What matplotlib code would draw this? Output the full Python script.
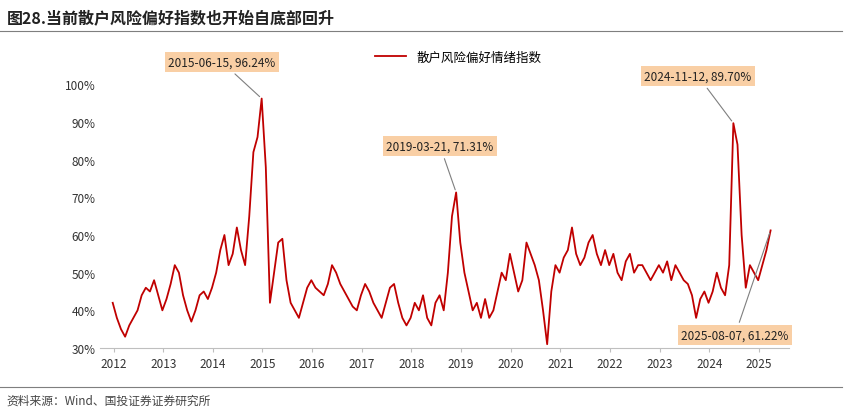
import matplotlib
matplotlib.use("Agg")
import matplotlib.pyplot as plt
import numpy as np

plt.rcParams['font.family'] = ['Noto Sans CJK SC']

# monthly index values (%) starting 2012-05
values = [
 42,38,35,33,36,38,40,44,46,45,48,44,
 40,43,47,52,50,44,40,37,40,44,45,43,
 46,50,56,60,52,55,62,56,52,65,82,86,
 96.24,78,42,50,58,59,48,42,40,38,42,46,
 48,46,45,44,47,52,50,47,45,43,41,40,
 44,47,45,42,40,38,42,46,47,42,38,36,
 38,42,40,44,38,36,42,44,40,50,65,71.31,
 58,50,45,40,42,38,43,38,40,45,50,48,
 55,50,45,48,58,55,52,48,40,31,45,52,
 50,54,56,62,55,52,54,58,60,55,52,56,
 52,55,50,48,53,55,50,52,52,50,48,50,
 52,50,53,48,52,50,48,47,44,38,43,45,
 42,45,50,46,44,52,89.70,84,60,46,52,50,
 48,52,56,61.22]
start_year = 2012 + 4/12
years = [str(y) for y in range(2012, 2026)]
label_offset = 0.35
annots = [("2015-06-15, 96.24%", 36, (222, 351)),
          ("2019-03-21, 71.31%", 83, (440, 267)),
          ("2024-11-12, 89.70%", 150, (698, 337)),
          ("2025-08-07, 61.22%", len(values)-1, (735, 78))]

x = start_year + np.arange(len(values))/12
fig = plt.figure(figsize=(8.5, 4.14), dpi=100)
ax = fig.add_axes([0.118, 0.157, 0.81, 0.746])
ax.plot(x, values, color='#c00000', lw=1.3, label='散户风险偏好情绪指数')
ax.set_ylim(30, 112)
ax.set_yticks(range(30, 101, 10))
ax.set_yticklabels([f"{v}%" for v in range(30, 101, 10)], fontsize=8.5, color='#333333')
xt = [int(y) + label_offset for y in years]
ax.set_xticks(xt)
ax.set_xticklabels(years, fontsize=8.5, color='#333333')
ax.set_xlim(start_year - 0.25, 2025.95)
for s in ['top', 'right', 'left']:
    ax.spines[s].set_visible(False)
ax.spines['bottom'].set_color('#bfbfbf')
ax.tick_params(axis='y', length=0)
ax.tick_params(axis='x', length=3, color='#bfbfbf')
ax.legend(loc='upper center', bbox_to_anchor=(0.52, 1.0), frameon=False, fontsize=9, handlelength=2.5)
for txt, i, pos in annots:
    ax.annotate(txt, xy=(x[i], values[i]), xycoords='data', xytext=pos, textcoords='figure pixels',
                ha='center', va='center', fontsize=8.5, color='#222222',
                bbox=dict(boxstyle='square,pad=0.3', fc='#f9cfa5', ec='none'),
                arrowprops=dict(arrowstyle='-', color='#7f7f7f', lw=0.8), annotation_clip=False)
fig.text(0.008, 0.975, "图28.当前散户风险偏好指数也开始自底部回升", fontsize=11.5, fontweight='bold',
         va='top', color='#222222')
fig.add_artist(plt.Line2D([0.0, 0.99], [0.922, 0.922], color='#7f7f7f', lw=0.8))
fig.add_artist(plt.Line2D([0.0, 0.99], [0.062, 0.062], color='#7f7f7f', lw=0.8))
fig.text(0.008, 0.03, "资料来源：Wind、国投证券证券研究所", fontsize=8.5, style='italic',
         va='center', color='#444444')
fig.savefig("out.png", dpi=100)
